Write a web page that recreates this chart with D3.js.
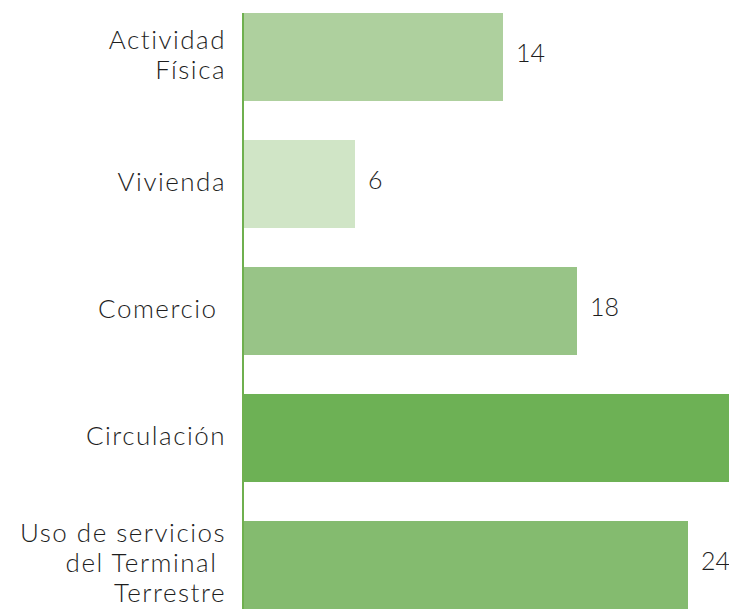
<!DOCTYPE html>
<html>
<head>
<meta charset="utf-8">
<script src="https://cdn.jsdelivr.net/npm/d3@7"></script>
<style>
  html, body { margin: 0; padding: 0; background: #ffffff; }
  svg { display: block; }
  text { font-family: "Lato", "DejaVu Sans", sans-serif; font-weight: 300; fill: #1e1e1e; white-space: pre; }
</style>
</head>
<body>
<svg id="chart" width="729" height="609"></svg>
<script>
// Category labels (each entry is a list of lines)
const categories = ["Actividad Física", "Vivienda", "Comercio", "Circulación", "Uso de servicios del Terminal Terrestre"];
const labelLines = [
  ["Actividad", "Física"],
  ["Vivienda"],
  ["Comercio "],
  ["Circulación"],
  ["Uso de servicios", "del Terminal ", "Terrestre"]
];
const values = [14, 6, 18, 38, 24];
// Value labels that appear inside the visible area
const shownLabels = [true, true, true, false, true];
const colors = ["#aed09e", "#d0e5c6", "#98c487", "#6db155", "#84bb6f"];

const W = 729, H = 609;
const svg = d3.select("#chart");

const x = d3.scaleLinear().domain([0, 24]).range([244, 688]);
const y = d3.scaleBand().domain(categories).range([13, 609]).paddingInner(0.307).paddingOuter(0);

// Bars
svg.append("g").selectAll("rect")
  .data(categories)
  .join("rect")
  .attr("x", x(0))
  .attr("y", d => y(d))
  .attr("width", (d, i) => x(values[i]) - x(0))
  .attr("height", y.bandwidth())
  .attr("fill", (d, i) => colors[i]);

// Vertical category axis line
svg.append("line")
  .attr("x1", 243).attr("x2", 243)
  .attr("y1", 13).attr("y2", H)
  .attr("stroke", "#6fb04f")
  .attr("stroke-width", 2);

// Value labels
svg.append("g").selectAll("text")
  .data(categories.filter((d, i) => shownLabels[i]))
  .join("text")
  .attr("x", d => x(values[categories.indexOf(d)]) + 13)
  .attr("y", d => y(d) + y.bandwidth() / 2 + 5)
  .attr("font-size", 25)
  .text(d => values[categories.indexOf(d)]);

// Category labels, right-aligned, multi-line centred on each band
const lineH = 30;
const lab = svg.append("g").selectAll("text")
  .data(categories)
  .join("text")
  .attr("text-anchor", "end")
  .attr("font-size", 26)
  .attr("letter-spacing", 1.5)
  .attr("xml:space", "preserve");

lab.each(function(d, i) {
  const lines = labelLines[i];
  const cy = y(d) + y.bandwidth() / 2 + 7;
  const startY = cy - (lines.length - 1) * lineH / 2;
  d3.select(this).selectAll("tspan")
    .data(lines)
    .join("tspan")
    .attr("x", 226)
    .attr("y", (l, j) => startY + j * lineH)
    .text(l => l);
});
</script>
</body>
</html>
